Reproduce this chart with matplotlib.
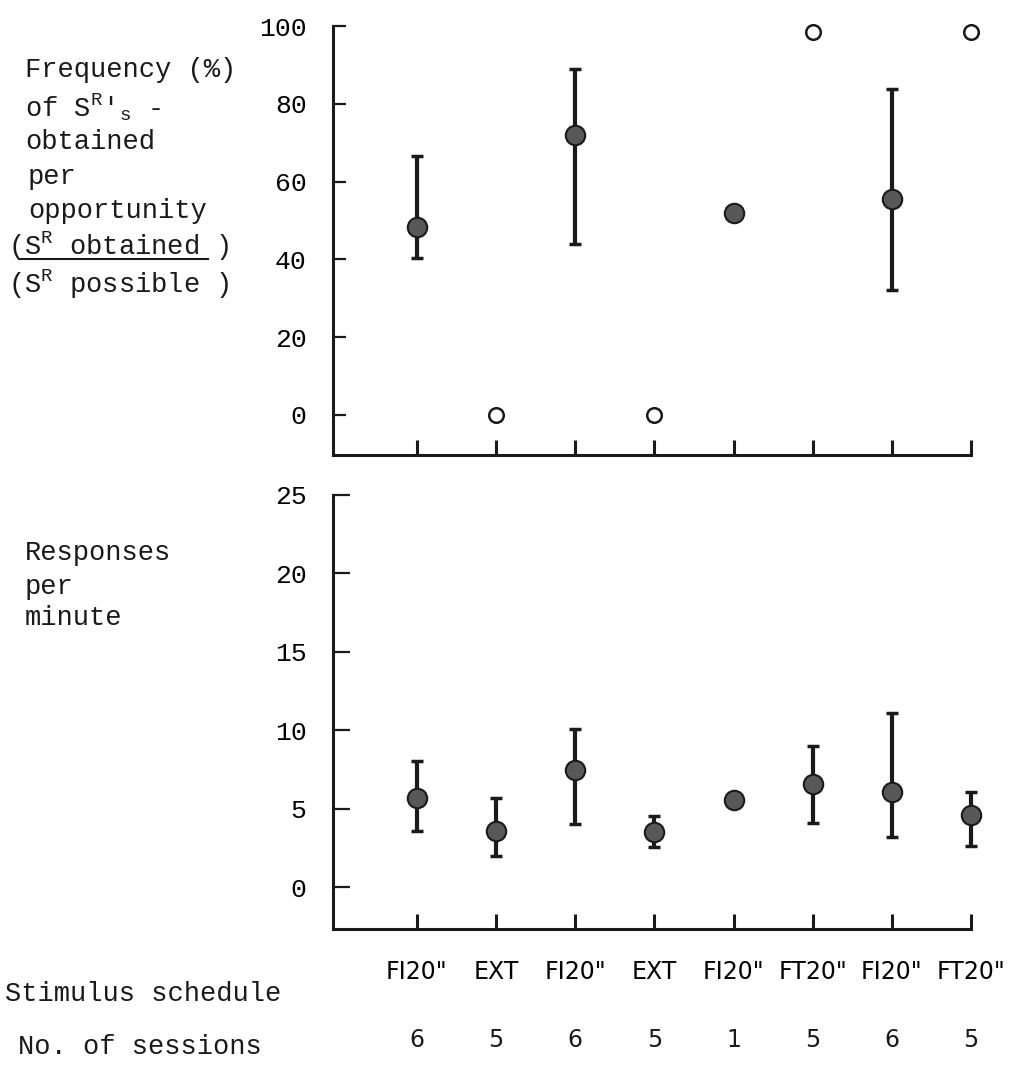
import numpy as np
import matplotlib
matplotlib.use("Agg")
import matplotlib.pyplot as plt
from matplotlib.lines import Line2D

# data
schedules = ['FI20"', 'EXT', 'FI20"', 'EXT', 'FI20"', 'FT20"', 'FI20"', 'FT20"']
sessions = [6, 5, 6, 5, 1, 5, 6, 5]

# frequency (%) of SR obtained per opportunity
sr_pct = [48.4, 0, 72.0, 0, 51.8, 98.5, 55.5, 98.5]
sr_lo = [40.4, np.nan, 43.9, np.nan, np.nan, np.nan, 32.1, np.nan]
sr_hi = [66.7, np.nan, 88.9, np.nan, np.nan, np.nan, 83.7, np.nan]

# responses per minute
resp_rate = [5.70, 3.62, 7.51, 3.51, 5.59, 6.59, 6.06, 4.64]
resp_lo = [3.62, 1.98, 4.06, 2.58, np.nan, 4.11, 3.19, 2.62]
resp_hi = [8.04, 5.70, 10.1, 4.57, np.nan, 8.99, 11.12, 6.08]

W, H = 1030, 1069
MONO = "Liberation Mono"
plt.rcParams["mathtext.default"] = "regular"
INK = "#1a1a1a"


def fx(px):
    return px / W


def fy(py):
    return 1 - py / H


fig = plt.figure(figsize=(W / 100, H / 100), dpi=100)
ax1 = fig.add_axes([fx(333), fy(455), fx(971) - fx(333), fy(26) - fy(455)])
ax2 = fig.add_axes([fx(333), fy(929), fx(971) - fx(333), fy(495) - fy(929)])

x = np.arange(1, len(schedules) + 1)


def draw(ax, mean, lo, hi, open_mask):
    mean, lo, hi = np.asarray(mean, float), np.asarray(lo, float), np.asarray(hi, float)
    has_err = np.isfinite(lo)
    eb = ax.errorbar(x[has_err], mean[has_err],
                     yerr=[mean[has_err] - lo[has_err], hi[has_err] - mean[has_err]],
                     fmt="none", ecolor=INK, elinewidth=3, capsize=4.5, capthick=2.5, zorder=2)
    for art in eb.lines[1] + eb.lines[2]:
        art.set_clip_on(False)
    filled = ~open_mask
    ax.plot(x[filled], mean[filled], "o", ms=14, mfc="#585858", mec=INK, mew=1.5,
            zorder=3, clip_on=False)
    if open_mask.any():
        ax.plot(x[open_mask], mean[open_mask], "o", ms=10.5, mfc="white", mec=INK, mew=1.8,
                zorder=3, clip_on=False)


open_top = np.array([not s.startswith("FI") for s in schedules])
draw(ax1, sr_pct, sr_lo, sr_hi, open_top)
draw(ax2, resp_rate, resp_lo, resp_hi, np.zeros(len(x), bool))

for ax, ylim, yt, tl in [(ax1, (-10.3, 100), np.arange(0, 101, 20), 9),
                         (ax2, (-2.65, 25), np.arange(0, 26, 5), 12)]:
    ax.set_xlim(-0.06, 8.0)
    ax.set_ylim(*ylim)
    ax.set_yticks(yt)
    ax.set_xticks(x)
    for s in ("top", "right"):
        ax.spines[s].set_visible(False)
    for s in ("left", "bottom"):
        ax.spines[s].set_linewidth(2.2)
        ax.spines[s].set_color(INK)
    ax.tick_params(axis="y", direction="in", length=tl, width=1.6, color=INK, pad=19,
                   labelsize=19)
    ax.tick_params(axis="x", direction="in", length=11, width=2.2, color=INK)
    for lab in ax.get_yticklabels():
        lab.set_fontfamily(MONO)

ax1.set_xticklabels([])
ax2.set_xticklabels(schedules, fontsize=17, fontfamily="DejaVu Sans")
ax2.tick_params(axis="x", pad=22)
for xi, n in zip(x, sessions):
    ax2.text(xi, -0.255, str(n), transform=ax2.get_xaxis_transform(), ha="center",
             va="center", fontsize=17, fontfamily="DejaVu Sans", color=INK)

# left-hand labels
kw = dict(fontsize=19.5, fontfamily=MONO, va="center", ha="left", color=INK)
fig.text(fx(25), fy(70), "Frequency (%)", **kw)
fig.text(fx(25), fy(107), "of S$^{R}$'$_{s}$ -", **kw)
fig.text(fx(25), fy(142), "obtained", **kw)
fig.text(fx(28), fy(177), "per", **kw)
fig.text(fx(28), fy(211), "opportunity", **kw)
fig.text(fx(8), fy(246), "(S$^{R}$ obtained )", **kw)
fig.text(fx(8), fy(284), "(S$^{R}$ possible )", **kw)
fig.add_artist(Line2D([fx(20), fx(208)], [fy(259), fy(259)], color=INK, lw=1.5))

fig.text(fx(25), fy(553), "Responses", **kw)
fig.text(fx(25), fy(587), "per", **kw)
fig.text(fx(25), fy(618), "minute", **kw)
fig.text(fx(5), fy(994), "Stimulus schedule", **kw)
fig.text(fx(18), fy(1047), "No. of sessions", **kw)

fig.savefig("out.png", dpi=100)
